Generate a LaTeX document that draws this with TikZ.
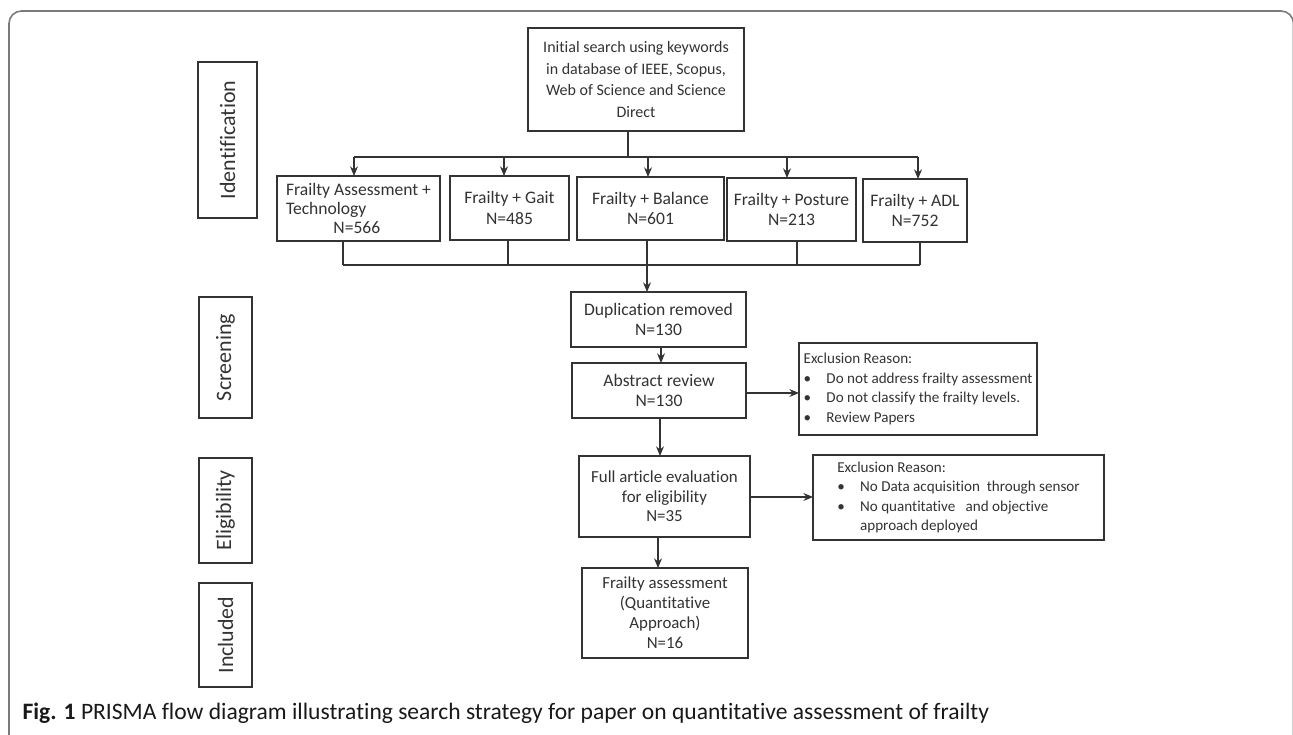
\documentclass[tikz,border=0pt]{standalone}
\usepackage{fontspec}
\setmainfont{Carlito}[Ligatures=NoCommon]
\usetikzlibrary{arrows.meta}
\definecolor{inkgray}{HTML}{333333}
\definecolor{framegray}{HTML}{7A7A7A}

\begin{document}
\begin{tikzpicture}[x=0.02cm, y=-0.02cm, line width=0.7pt,
    every node/.style = {text=inkgray},
    box/.style = {draw=inkgray, fill=white, inner sep=0pt, outer sep=0pt, align=center,
                  font=\fontsize{10}{11.5}\selectfont},
    stagebox/.style = {draw=inkgray, inner sep=0pt, outer sep=0pt, rotate=90,
                  font=\fontsize{12.5}{14}\selectfont},
    exclbox/.style = {draw=inkgray, inner sep=0pt, outer sep=0pt, align=left,
                  font=\fontsize{8.6}{11.1}\selectfont},
    flow/.style = {draw=inkgray, -{Stealth[length=5.5pt, width=4.5pt]}},
    link/.style = {draw=inkgray}]
    \useasboundingbox (0,0) rectangle (1293,734);
    \begin{scope}
    \clip (0,0) rectangle (1293,734);
    \draw [framegray, line width=0.9pt, rounded corners=0.25cm] (9,11) rectangle (1293.5,770);
    \end{scope}

    \node [stagebox, minimum width=3.12cm, minimum height=1.18cm] (ident) at (227.5,140) {Identification};
    \node [stagebox, minimum width=2.42cm, minimum height=1.06cm] (screen) at (225.5,357.5) {Screening};
    \node [stagebox, minimum width=2.1cm, minimum height=1.06cm] (elig) at (225.5,510.5) {Eligibility};
    \node [stagebox, minimum width=2.08cm, minimum height=1.06cm] (incl) at (225.5,635) {Included};

    \node [box, minimum width=4.32cm, minimum height=2.06cm, font=\fontsize{9.1}{12.2}\selectfont] (search) at (636,79.5)
        {Initial search using keywords\\in database of IEEE, Scopus,\\Web of Science and Science\\Direct};
    \node [box, align=left, minimum width=3.26cm, minimum height=1.3cm, font=\fontsize{10}{10.6}\selectfont] (tech) at (358.5,208.5)
        {Frailty Assessment +\\Technology\\\hspace*{27pt}N=566};
    \node [box, minimum width=2.38cm, minimum height=1.28cm] (gait) at (509.5,208) {Frailty + Gait\\N=485};
    \node [box, minimum width=2.94cm, minimum height=1.26cm] (balance) at (650.5,208.5) {Frailty + Balance\\N=601};
    \node [box, minimum width=2.58cm, minimum height=1.26cm] (posture) at (791.5,209.5) {Frailty + Posture\\N=213};
    \node [box, minimum width=2.08cm, minimum height=1.26cm] (adl) at (915,210.5) {Frailty + ADL\\N=752};

    \node [box, minimum width=3.5cm, minimum height=1.1cm] (dupl) at (658.5,319.5) {Duplication removed\\N=130};
    \node [box, minimum width=3.48cm, minimum height=1.1cm] (abstr) at (659,390.5) {Abstract review\\N=130};
    \node [box, minimum width=3.42cm, minimum height=1.62cm, font=\fontsize{9.6}{11.1}\selectfont] (fulltext) at (664.5,496.5)
        {Full article evaluation\\for eligibility\\N=35};
    \node [box, minimum width=3.32cm, minimum height=1.8cm, font=\fontsize{9.6}{11.4}\selectfont] (final) at (665,613)
        {Frailty assessment\\(Quantitative\\Approach)\\N=16};

    \node [exclbox, minimum width=4.76cm, minimum height=1.84cm] (exclA) at (918,389)
        {Exclusion Reason:\\
         \makebox[13pt][l]{\textbullet}Do not address frailty assessment\\
         \makebox[13pt][l]{\textbullet}Do not classify the frailty levels.\\
         \makebox[13pt][l]{\textbullet}Review Papers};
    \node [exclbox, minimum width=5.82cm, minimum height=1.7cm] (exclB) at (958.5,497.5)
        {Exclusion Reason:\\
         \makebox[13pt][l]{\textbullet}No Data acquisition\ \ through sensor\\
         \makebox[13pt][l]{\textbullet}No quantitative\ \ \ and objective\\
         \hspace*{13pt}approach deployed};

    \coordinate (split) at (628,157);
    \coordinate (splitL) at (354,157);
    \coordinate (splitG) at (504,157);
    \coordinate (splitB) at (648,157);
    \coordinate (splitP) at (787,157);
    \coordinate (splitR) at (918,157);
    \draw [link] (search.south -| split) -- (split);
    \draw [link] (splitL) -- (splitR);
    \draw [flow] (splitL) -- (splitL |- tech.north);
    \draw [flow] (splitG) -- (splitG |- gait.north);
    \draw [flow] (splitB) -- (splitB |- balance.north);
    \draw [flow] (splitP) -- (splitP |- posture.north);
    \draw [flow] (splitR) -- (splitR |- adl.north);

    \coordinate (mergeL) at (343,265);
    \coordinate (mergeG) at (508,265);
    \coordinate (mergeB) at (647,265);
    \coordinate (mergeP) at (797,265);
    \coordinate (mergeR) at (920,265);
    \draw [link] (mergeL) -- (mergeR);
    \draw [link] (mergeL |- tech.south) -- (mergeL);
    \draw [link] (mergeG |- gait.south) -- (mergeG);
    \draw [link] (mergeP |- posture.south) -- (mergeP);
    \draw [link] (mergeR |- adl.south) -- (mergeR);
    \draw [flow] (mergeB |- balance.south) -- (mergeB |- dupl.north);

    \draw [flow] (dupl.south -| 661,0) -- (abstr.north -| 661,0);
    \draw [flow] (abstr.south -| 660,0) -- (fulltext.north -| 660,0);
    \draw [flow] (fulltext.south -| 658,0) -- (final.north -| 658,0);
    \draw [flow] (abstr.east |- 0,393) -- (exclA.west |- 0,393);
    \draw [flow] (fulltext.east |- 0,497) -- (exclB.west |- 0,497);

    \node [anchor=west, inner sep=0pt, text=black!90, font=\fontsize{13.4}{15}\selectfont] (caption) at (22,713)
        {\textbf{Fig. 1} PRISMA flow diagram illustrating search strategy for paper on quantitative assessment of frailty};
\end{tikzpicture}
\end{document}
